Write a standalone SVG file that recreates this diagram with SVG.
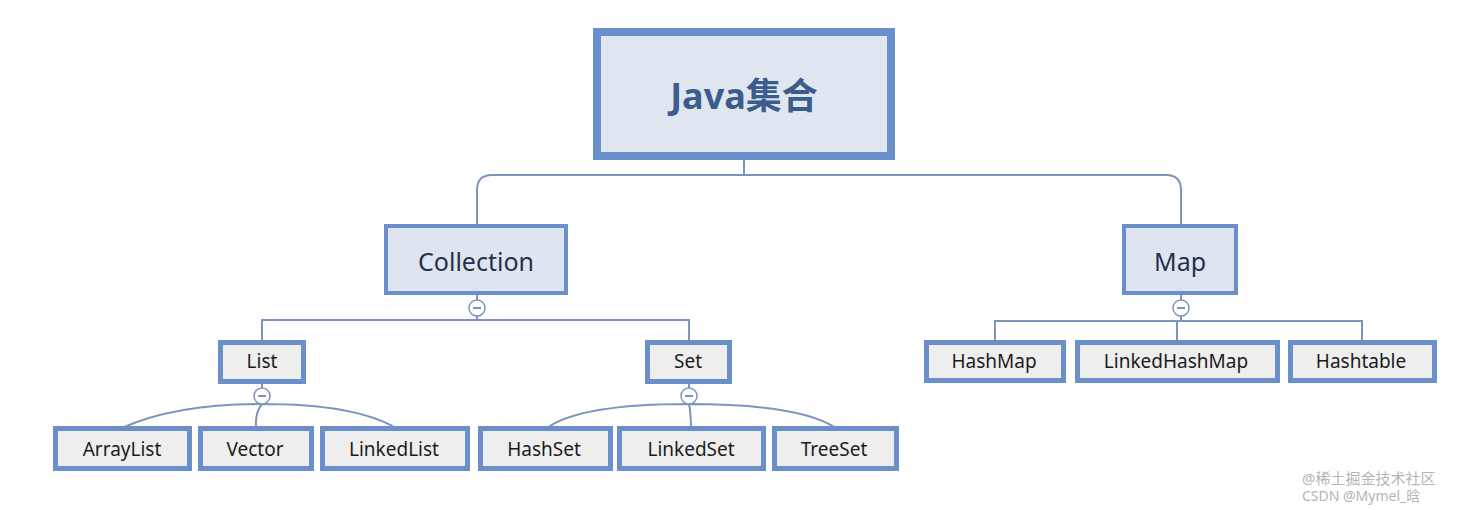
<svg xmlns="http://www.w3.org/2000/svg" width="1476" height="510" viewBox="0 0 1476 510">
<style>
.box{fill:#eeeeee;stroke:#6a8fcb;stroke-width:5}
.mid{fill:#dfe5f0;stroke:#6a8fcb;stroke-width:4}
.top{fill:#e0e6f0;stroke:#6a8fcb;stroke-width:8}
.t{font-family:"Noto Sans","Liberation Sans",sans-serif;font-size:19px;fill:#1c1c1c;text-anchor:middle;dominant-baseline:central}
.tm{font-family:"Noto Sans","Liberation Sans",sans-serif;font-size:25px;fill:#25304a;text-anchor:middle;dominant-baseline:central}
.tt{font-family:"Noto Sans","Noto Sans CJK SC",sans-serif;font-size:36px;font-weight:bold;fill:#3d5c8e;text-anchor:middle;dominant-baseline:central}
.c{fill:none;stroke:#7d95bd;stroke-width:2}
.k{fill:#ffffff;stroke:#7d95bd;stroke-width:1.5}
.wm{font-family:"Noto Sans","Noto Sans CJK SC",sans-serif;fill:#b5b5b5}
</style>
<g id="connectors">
<path class="c" d="M744 160 V175 M492 175 H1166 Q1181 175 1181 190 V224 M492 175 Q477 175 477 190 V224"/>
<path class="c" d="M477 295 V320 M262 341 V320 H689 V341"/>
<path class="c" d="M1181 295 V321 M995 340 V321 H1362 V340 M1177 321 V340"/>
<path class="c" d="M262 384 V404"/>
<path class="c" d="M262 404 Q255 412 256 428 M262 404 Q175 404 122 428 M262 404 Q355 404 396 428"/>
<path class="c" d="M689 384 V404"/>
<path class="c" d="M689 404 Q691 414 691 428 M689 404 Q580 404 547 428 M689 404 Q800 404 836 428"/>
<circle class="k" cx="477" cy="308" r="8"/><path class="c" d="M473 308 H481" stroke-width="1.5"/>
<circle class="k" cx="1181" cy="308" r="8"/><path class="c" d="M1177 308 H1185" stroke-width="1.5"/>
<circle class="k" cx="262" cy="396" r="8"/><path class="c" d="M258 396 H266" stroke-width="1.5"/>
<circle class="k" cx="689" cy="396" r="8"/><path class="c" d="M685 396 H693" stroke-width="1.5"/>
</g>
<g id="java"><rect class="top" x="597" y="32" width="294" height="124"/><text class="tt" x="744" y="95">Java集合</text></g>
<g id="collection"><rect class="mid" x="386" y="226" width="180" height="67"/><text class="tm" x="476" y="261">Collection</text></g>
<g id="map"><rect class="mid" x="1124" y="226" width="112" height="67"/><text class="tm" x="1180" y="261">Map</text></g>
<g id="list"><rect class="box" x="220.5" y="342.5" width="83" height="39"/><text class="t" x="262" y="361">List</text></g>
<g id="set"><rect class="box" x="647.5" y="342.5" width="82" height="39"/><text class="t" x="688" y="361">Set</text></g>
<g id="arraylist"><rect class="box" x="55.5" y="428.5" width="134" height="40"/><text class="t" x="122" y="449">ArrayList</text></g>
<g id="vector"><rect class="box" x="200.5" y="428.5" width="111" height="40"/><text class="t" x="255" y="449">Vector</text></g>
<g id="linkedlist"><rect class="box" x="322.5" y="428.5" width="145" height="40"/><text class="t" x="394" y="449">LinkedList</text></g>
<g id="hashset"><rect class="box" x="480.5" y="428.5" width="130" height="40"/><text class="t" x="544" y="449">HashSet</text></g>
<g id="linkedset"><rect class="box" x="619.5" y="428.5" width="144" height="40"/><text class="t" x="691" y="449">LinkedSet</text></g>
<g id="treeset"><rect class="box" x="774.5" y="428.5" width="122" height="40"/><text class="t" x="834" y="449">TreeSet</text></g>
<g id="hashmap"><rect class="box" x="926.5" y="342.5" width="137" height="38"/><text class="t" x="994" y="361">HashMap</text></g>
<g id="linkedhashmap"><rect class="box" x="1077.5" y="342.5" width="200" height="38"/><text class="t" x="1176" y="361">LinkedHashMap</text></g>
<g id="hashtable"><rect class="box" x="1290.5" y="342.5" width="144" height="38"/><text class="t" x="1361" y="361">Hashtable</text></g>
<g id="watermark">
<text class="wm" x="1302" y="484" font-size="15">@稀土掘金技术社区</text>
<text class="wm" x="1302" y="501" font-size="14">CSDN @Mymel_晗</text>
</g>
</svg>
